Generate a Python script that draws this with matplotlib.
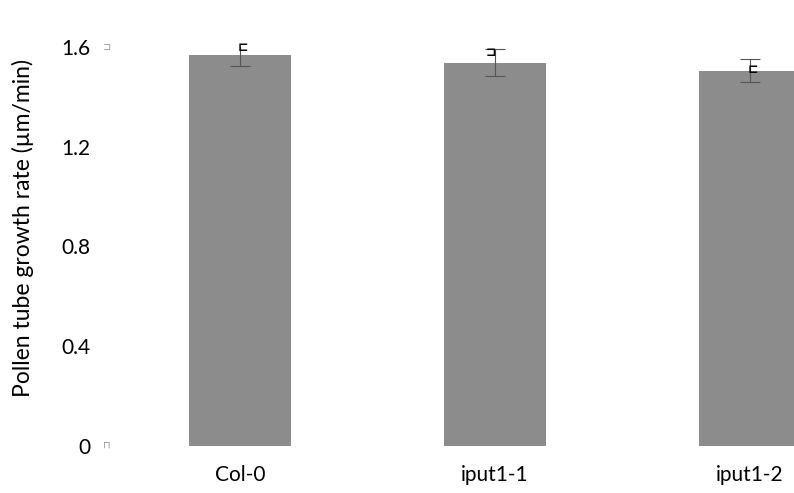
import matplotlib
matplotlib.use("Agg")
import matplotlib.pyplot as plt
import matplotlib.patheffects as pe
import numpy as np

# -------- data --------
genotypes = ["Col-0", "iput1-1", "iput1-2"]
growth_rate = [1.568, 1.536, 1.504]      # µm/min
growth_err = [0.044, 0.054, 0.046]
y_ticks = [0, 0.4, 0.8, 1.2, 1.6]
y_tick_labels = ["0", "0.4", "0.8", "1.2", "1.6"]
# ----------------------

plt.rcParams["font.family"] = ["Lato", "DejaVu Sans"]

W, H = 794, 493
fig = plt.figure(figsize=(W / 100, H / 100), dpi=100)
# axes box in pixels: left 113, right at the figure edge (bar 3 is clipped)
left, right, bottom, top = 113, 794, H - 446, H - 47
ax = fig.add_axes([left / W, bottom / H, (right - left) / W, (top - bottom) / H])

x = np.arange(len(genotypes))
bars = ax.bar(x, growth_rate, width=0.4, color="#8c8c8c", zorder=2)
for b in bars:
    b.set_path_effects([pe.SimplePatchShadow(offset=(0, 0), shadow_rgbFace="#b0b0b0", alpha=0.5),
                        pe.Normal()])
ax.errorbar(x, growth_rate, yerr=growth_err, fmt="none", ecolor="#555555",
            elinewidth=0.8, capsize=7.5, capthick=0.8, zorder=3)

ax.set_xlim(-0.5, 2.173)
ax.set_ylim(0, 1.6)
ax.set_yticks(y_ticks)
ax.set_yticklabels(y_tick_labels, fontsize=15)
ax.set_xticks(x)
ax.set_xticklabels(genotypes, fontsize=15)
ax.tick_params(axis="both", length=0)
ax.tick_params(axis="x", pad=14)
ax.tick_params(axis="y", pad=16)
for s in ax.spines.values():
    s.set_visible(False)

fig.text(23 / W, 1 - 228 / H, "Pollen tube growth rate (µm/min)", rotation=90,
         ha="center", va="center", fontsize=16.5)

# stray glyphs seen in the source image (font substitution artefacts)
glyph_kw = dict(ha="center", va="center", fontsize=9, fontweight="bold",
                family=["DejaVu Sans"], zorder=4)
ax.text(0.01, 1.596, "\u228f", color="black", **glyph_kw)
ax.text(0.985, 1.578, "\u2290", color="black", **glyph_kw)
ax.text(2.01, 1.508, "\u228f", color="black", **glyph_kw)
ax.text(-0.524, 1.6, "\u2290", color="#999999", ha="center", va="center",
        fontsize=7, family=["DejaVu Sans"], clip_on=False)
ax.text(-0.524, 0.005, "\u2293", color="#999999", ha="center", va="center",
        fontsize=7, family=["DejaVu Sans"], clip_on=False)

fig.savefig("out.png", dpi=100)
